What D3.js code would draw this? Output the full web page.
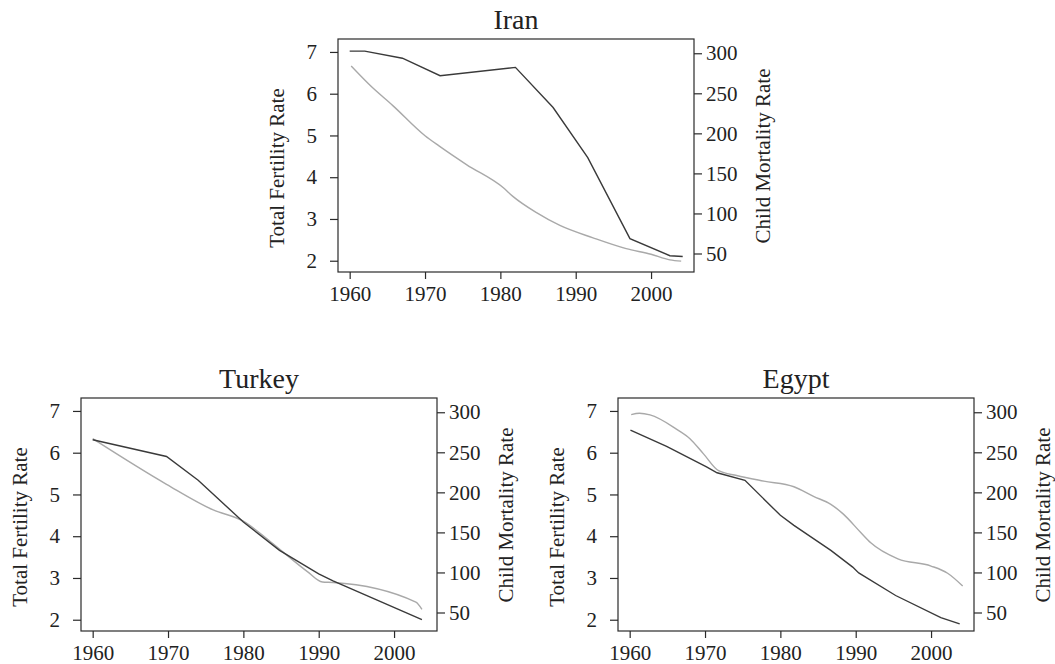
<!DOCTYPE html>
<html>
<head>
<meta charset="utf-8">
<script src="https://cdn.jsdelivr.net/npm/d3@7"></script>
<style>
  body { margin: 0; background: #fff; }
  svg text { font-family: "Liberation Serif", "DejaVu Serif", serif; fill: #222; }
</style>
</head>
<body>
<div id="chart"></div>
<script>
// values (TFR on left axis, child mortality on right axis)
var iranTfrYears = [1960, 1962, 1967, 1972, 1982, 1987, 1991.6, 1997.2, 2002.5, 2004.2];
var iranTfr      = [7.02, 7.02, 6.85, 6.43, 6.63, 5.67, 4.47, 2.53, 2.12, 2.10];
var iranCmYears  = [1960.2, 1962.7, 1965.8, 1970, 1971.9, 1975.5, 1980.4, 1981.7, 1984.8, 1987.9, 1992.3, 1996.7, 2000, 2002.5, 2004];
var iranCm       = [284, 260, 234, 197, 184, 161, 132, 121, 101, 85, 69.5, 56, 49, 42, 40.5];

var turkeyTfrYears = [1960, 1969.8, 1974, 1980, 1984.8, 1990, 1991.9, 2003.7];
var turkeyTfr      = [6.31, 5.91, 5.34, 4.34, 3.66, 3.10, 2.93, 2.0];
var turkeyCmYears  = [1960, 1969.8, 1976, 1980, 1983, 1985.2, 1988.5, 1990.5, 1991.9, 2002.9, 2003.7];
var turkeyCm       = [267, 210, 178, 164, 143, 126, 101, 88, 87.5, 63, 54];

var egyptTfrYears = [1960.1, 1964.9, 1970.2, 1971.6, 1975.3, 1980, 1981.8, 1986.7, 1989.6, 1990.4, 1995.3, 2001.3, 2003.8];
var egyptTfr      = [6.54, 6.15, 5.66, 5.52, 5.34, 4.50, 4.26, 3.66, 3.26, 3.12, 2.58, 2.05, 1.90];
var egyptCmYears  = [1960.2, 1961.3, 1962.7, 1966.2, 1968, 1969.8, 1971.8, 1974.2, 1977.8, 1981.8, 1984.4, 1986.7, 1988.4, 1990.7, 1992, 1995.6, 2000, 2002.2, 2004.2];
var egyptCm       = [297, 298.7, 296.7, 279, 267, 248, 227, 221, 214, 207, 195, 185, 172.5, 149.5, 137, 117, 108, 99, 83];

var yearTicks = [1960, 1970, 1980, 1990, 2000];
var tfrTicks  = [2, 3, 4, 5, 6, 7];
var cmTicks   = [50, 100, 150, 200, 250, 300];

var panels = [
  { name: "Iran",   left: 338, top: 39,  tfrX: iranTfrYears,   tfr: iranTfr,   cmX: iranCmYears,   cm: iranCm },
  { name: "Turkey", left: 81,  top: 398, tfrX: turkeyTfrYears, tfr: turkeyTfr, cmX: turkeyCmYears, cm: turkeyCm },
  { name: "Egypt",  left: 618, top: 398, tfrX: egyptTfrYears,  tfr: egyptTfr,  cmX: egyptCmYears,  cm: egyptCm }
];

var width = 1055, height = 664;
var pw = 356, ph = 233;

var svg = d3.select("#chart").append("svg")
  .attr("width", width)
  .attr("height", height);

var x = d3.scaleLinear().domain([1958.45, 2005.7]).range([0, pw]);
var yL = d3.scaleLinear().domain([1.73, 7.31]).range([ph, 0]);
var yR = d3.scaleLinear().domain([26.9, 317.8]).range([ph, 0]);

panels.forEach(function(p) {
  var g = svg.append("g").attr("transform", "translate(" + p.left + "," + p.top + ")");

  // lines first, box on top
  var lineTfr = d3.line().x(function(d) { return x(d[0]); }).y(function(d) { return yL(d[1]); });
  var lineCm = d3.line().curve(d3.curveMonotoneX)
    .x(function(d) { return x(d[0]); }).y(function(d) { return yR(d[1]); });

  g.append("path")
    .datum(d3.zip(p.cmX, p.cm))
    .attr("d", lineCm)
    .attr("fill", "none")
    .attr("stroke", "#a9a9a9")
    .attr("stroke-width", 1.4);

  g.append("path")
    .datum(d3.zip(p.tfrX, p.tfr))
    .attr("d", lineTfr)
    .attr("fill", "none")
    .attr("stroke", "#3a3a3a")
    .attr("stroke-width", 1.4);

  g.append("rect")
    .attr("width", pw).attr("height", ph)
    .attr("fill", "none")
    .attr("stroke", "#2a2a2a")
    .attr("stroke-width", 1.2);

  var ax = g.append("g").attr("transform", "translate(0," + ph + ")")
    .call(d3.axisBottom(x).tickValues(yearTicks).tickFormat(d3.format("d")).tickSize(7).tickPadding(7));
  var al = g.append("g")
    .call(d3.axisLeft(yL).tickValues(tfrTicks).tickFormat(d3.format("d")).tickSize(8).tickPadding(13));
  var ar = g.append("g").attr("transform", "translate(" + pw + ",0)")
    .call(d3.axisRight(yR).tickValues(cmTicks).tickFormat(d3.format("d")).tickSize(8).tickPadding(4));

  [ax, al, ar].forEach(function(a) {
    a.select(".domain").remove();
    a.selectAll("line").attr("stroke", "#2a2a2a").attr("stroke-width", 1.2);
    a.selectAll("text").attr("font-size", 21).attr("font-family", "Liberation Serif").attr("fill", "#222");
  });

  g.append("text")
    .attr("x", pw / 2).attr("y", -10)
    .attr("text-anchor", "middle")
    .attr("font-size", 28)
    .text(p.name);

  g.append("text")
    .attr("transform", "translate(-61," + 129 + ") rotate(-90)")
    .attr("dy", "0.35em")
    .attr("text-anchor", "middle")
    .attr("font-size", 21)
    .text("Total Fertility Rate");

  g.append("text")
    .attr("transform", "translate(" + (pw + 69) + "," + 117 + ") rotate(-90)")
    .attr("dy", "0.35em")
    .attr("text-anchor", "middle")
    .attr("font-size", 21)
    .text("Child Mortality Rate");
});
</script>
</body>
</html>
